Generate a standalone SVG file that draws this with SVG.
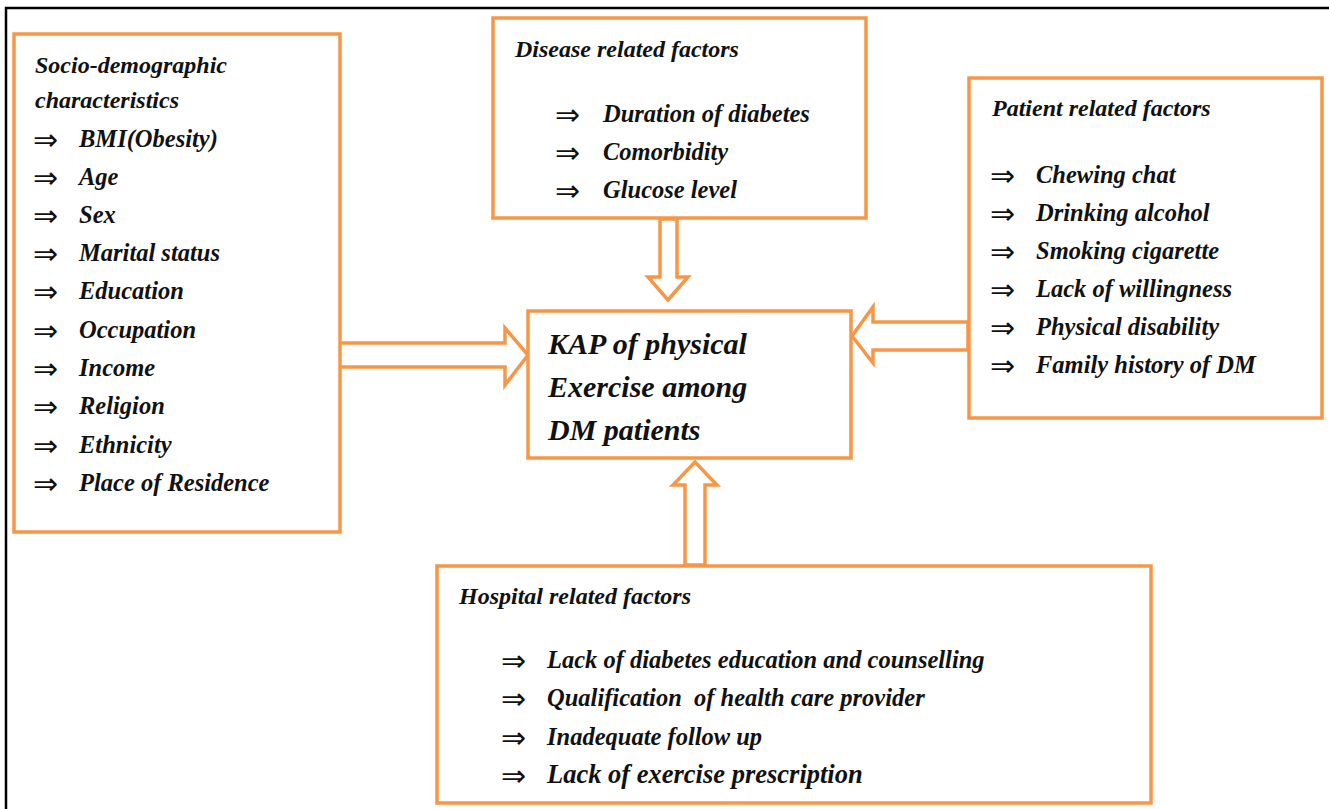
<svg xmlns="http://www.w3.org/2000/svg" width="1329" height="809" viewBox="0 0 1329 809">
<style>
.box{fill:#fff;stroke:#F79646;stroke-width:3.5}
.arr{fill:#fff;stroke:#F79646;stroke-width:3.5;stroke-linejoin:miter}
text{font-family:"Liberation Serif","Times New Roman",serif;font-style:italic;font-weight:bold;font-size:24.5px;fill:#111;white-space:pre}
.h{font-size:24px}
.c{font-size:30px}
.a{font-family:"DejaVu Sans",sans-serif;font-style:normal;font-weight:normal;font-size:30px}
</style>
<rect width="1329" height="809" fill="#fff"/>
<path d="M6 809 V8 H1329" fill="none" stroke="#000" stroke-width="2.5"/>
<g id="connectors">
<path class="arr" d="M336 343 H505 V328 L528 355 L505 385 V367 H336 Z"/>
<path class="arr" d="M968 322 H873 V307 L852 336 L873 363 V350 H968 Z"/>
<path class="arr" d="M660 219 V277 H648 L668 300 L688 277 H677 V219 Z"/>
<path class="arr" d="M685 565 V485 H673 L695 462 L717 485 H705 V565 Z"/>
</g>
<g id="socio">
<rect class="box" x="14" y="34" width="326" height="498"/>
<text class="h" x="35" y="73">Socio-demographic</text>
<text class="h" x="35" y="108">characteristics</text>
<text class="a" x="33" y="150">⇒</text><text x="79" y="147">BMI(Obesity)</text>
<text class="a" x="33" y="188">⇒</text><text x="79" y="185">Age</text>
<text class="a" x="33" y="226">⇒</text><text x="79" y="223">Sex</text>
<text class="a" x="33" y="264">⇒</text><text x="79" y="261">Marital status</text>
<text class="a" x="33" y="302">⇒</text><text x="79" y="299">Education</text>
<text class="a" x="33" y="341">⇒</text><text x="79" y="338">Occupation</text>
<text class="a" x="33" y="379">⇒</text><text x="79" y="376">Income</text>
<text class="a" x="33" y="417">⇒</text><text x="79" y="414">Religion</text>
<text class="a" x="33" y="456">⇒</text><text x="79" y="453">Ethnicity</text>
<text class="a" x="33" y="494">⇒</text><text x="79" y="491">Place of Residence</text>
</g>
<g id="disease">
<rect class="box" x="493" y="18" width="373" height="200"/>
<text class="h" x="515" y="57">Disease related factors</text>
<text class="a" x="555" y="125">⇒</text><text x="603" y="122">Duration of diabetes</text>
<text class="a" x="555" y="163">⇒</text><text x="603" y="160">Comorbidity</text>
<text class="a" x="555" y="201">⇒</text><text x="603" y="198">Glucose level</text>
</g>
<g id="patient">
<rect class="box" x="969" y="78" width="353" height="340"/>
<text class="h" x="992" y="116">Patient related factors</text>
<text class="a" x="990" y="186">⇒</text><text x="1036" y="183">Chewing chat</text>
<text class="a" x="990" y="224">⇒</text><text x="1036" y="221">Drinking alcohol</text>
<text class="a" x="990" y="262">⇒</text><text x="1036" y="259">Smoking cigarette</text>
<text class="a" x="990" y="300">⇒</text><text x="1036" y="297">Lack of willingness</text>
<text class="a" x="990" y="338">⇒</text><text x="1036" y="335">Physical disability</text>
<text class="a" x="990" y="376">⇒</text><text x="1036" y="373">Family history of DM</text>
</g>
<g id="center">
<rect class="box" x="528" y="311" width="323" height="147"/>
<text class="c" x="548" y="354">KAP of physical</text>
<text class="c" x="548" y="397">Exercise among</text>
<text class="c" x="548" y="440">DM patients</text>
</g>
<g id="hospital">
<rect class="box" x="437" y="566" width="714" height="237"/>
<text class="h" x="459" y="604">Hospital related factors</text>
<text class="a" x="501" y="671">⇒</text><text x="547" y="668">Lack of diabetes education and counselling</text>
<text class="a" x="501" y="709">⇒</text><text x="547" y="706">Qualification  of health care provider</text>
<text class="a" x="501" y="748">⇒</text><text x="547" y="745">Inadequate follow up</text>
<text class="a" x="501" y="786">⇒</text><text x="547" y="783" style="font-size:26.5px">Lack of exercise prescription</text>
</g>
</svg>
